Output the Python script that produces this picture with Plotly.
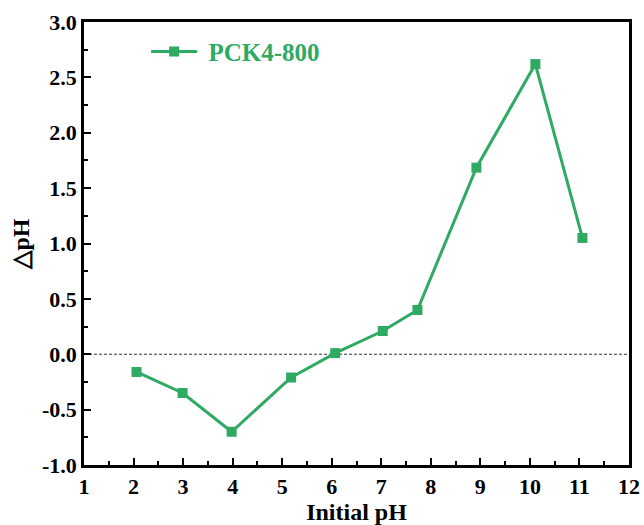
import plotly.graph_objects as go

initial_ph = [2.06, 2.99, 3.98, 5.18, 6.07, 7.03, 7.73, 8.92, 10.11, 11.06]
delta_ph = [-0.16, -0.35, -0.70, -0.21, 0.01, 0.21, 0.40, 1.685, 2.62, 1.05]
series_name = "PCK4-800"
y_tick_values = [-1.0, -0.5, 0.0, 0.5, 1.0, 1.5, 2.0, 2.5, 3.0]
y_tick_labels = ["-1.0", "-0.5", "0.0", "0.5", "1.0", "1.5", "2.0", "2.5", "3.0"]
green = "#2EAA62"
font_family = "Liberation Serif, Times New Roman, serif"

fig = go.Figure()
fig.add_trace(go.Scatter(
    x=initial_ph, y=delta_ph, mode="lines+markers", name="&nbsp;" + series_name,
    line=dict(color=green, width=3),
    marker=dict(symbol="square", size=10, color=green),
))

fig.add_shape(type="line", xref="paper", x0=0, x1=1, yref="y", y0=0, y1=0,
              line=dict(color="#333", width=1, dash="3px,2px"), layer="below")

axis_common = dict(
    showline=True, linewidth=2.5, linecolor="black", mirror=True,
    ticks="inside", ticklen=7, tickwidth=2, tickcolor="black",
    showgrid=False, zeroline=False, automargin=False,
    tickfont=dict(family=font_family, size=22, color="black", weight="bold"),
)

fig.update_xaxes(
    range=[1, 12], dtick=1, tick0=1,
    minor=dict(ticks="inside", ticklen=4, tickwidth=2, tickcolor="black", dtick=0.5),
    title=dict(text="<b>Initial pH</b>", font=dict(family=font_family, size=24, color="black"), standoff=2),
    **axis_common,
)
fig.update_yaxes(
    range=[-1, 3], tickmode="array", tickvals=y_tick_values, ticktext=y_tick_labels,
    minor=dict(ticks="inside", ticklen=4, tickwidth=2, tickcolor="black", dtick=0.25, tick0=0),
    title=dict(text="<b>△pH</b>", font=dict(family=font_family, size=24, color="black"), standoff=6),
    **axis_common,
)

fig.update_layout(
    width=644, height=525,
    margin=dict(l=84, r=15, t=22, b=60),
    paper_bgcolor="white", plot_bgcolor="white",
    showlegend=True,
    legend=dict(x=0.114, y=0.985, xanchor="left", yanchor="top", itemwidth=46,
                bgcolor="rgba(0,0,0,0)",
                font=dict(family=font_family, size=25, color=green, weight="bold")),
)

fig.write_html("out.html", config={"displayModeBar": False},
               post_script="document.body.style.margin='0';document.body.style.overflow='hidden';")
